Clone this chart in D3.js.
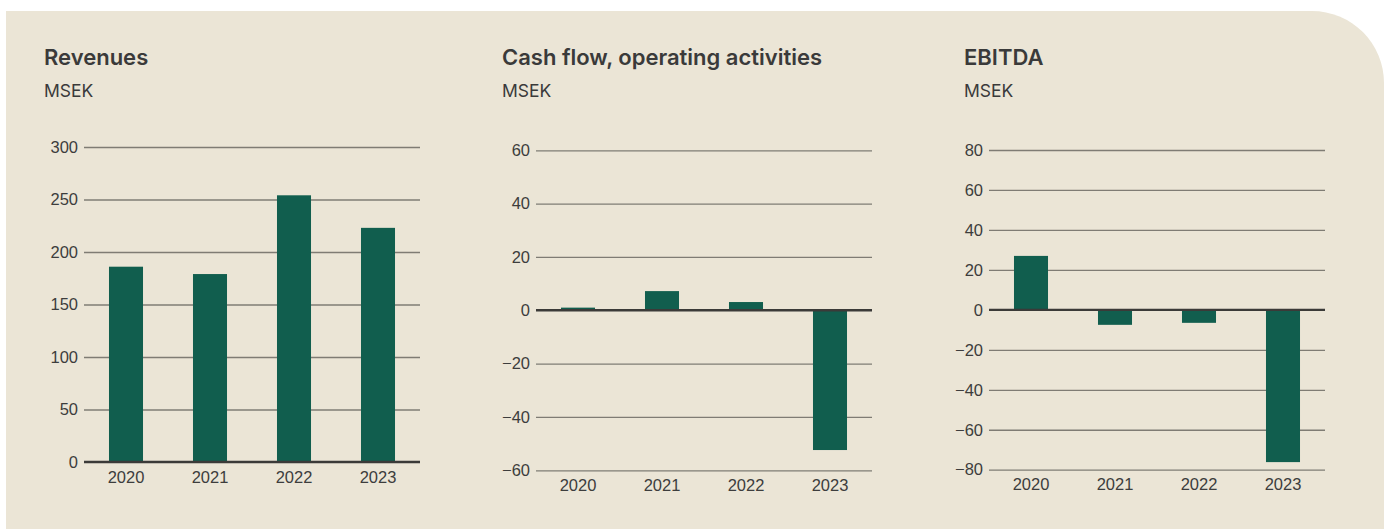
<!DOCTYPE html>
<html>
<head>
<meta charset="utf-8">
<script src="https://cdn.jsdelivr.net/npm/d3@7"></script>
<style>
  body { margin: 0; background: #fff; }
  svg { display: block; font-family: Inter, "Noto Sans", sans-serif; }
  .title { font-size: 22px; font-weight: 600; fill: #3a3a3a; }
  .unit { font-size: 17.5px; fill: #3a3a3a; }
  .tick text { font-size: 16.5px; fill: #3d3d3d; }
  .grid line { stroke: #7f7c74; stroke-width: 1.3; }
  .zero { stroke: #3b3a38; stroke-width: 2.4; }
  .bar { fill: #115e4e; }
</style>
</head>
<body>
<div id="graph"></div>
<script>
const width = 1384;
const height = 530;

const years = ['2020', '2021', '2022', '2023'];

const revenues = [186, 179, 254, 223];
const cashFlow = [1, 7.2, 3.1, -52.4];
const ebitda = [27, -7.5, -6.5, -76.2];

const revenueTicks = [0, 50, 100, 150, 200, 250, 300];
const cashFlowTicks = [-60, -40, -20, 0, 20, 40, 60];
const ebitdaTicks = [-80, -60, -40, -20, 0, 20, 40, 60, 80];

const titles = ['Revenues', 'Cash flow, operating activities', 'EBITDA'];
const unit = 'MSEK';

const panels = [
  {title: titles[0], values: revenues, ticks: revenueTicks, titleX: 44, x0: 84, top: 147, bottom: 462},
  {title: titles[1], values: cashFlow, ticks: cashFlowTicks, titleX: 502, x0: 536, top: 150.3, bottom: 470.3},
  {title: titles[2], values: ebitda, ticks: ebitdaTicks, titleX: 964, x0: 989, top: 150, bottom: 469.7}
];
const plotWidth = 336;

const svg = d3.select('#graph').append('svg').attr('width', width).attr('height', height);

// background card with rounded top-right corner
const r = 72, bx = 6, by = 11, bw = width - bx, bh = 529 - by;
svg.append('path')
  .attr('d', `M${bx},${by} H${bx + bw - r} A${r},${r} 0 0 1 ${bx + bw},${by + r} V${by + bh} H${bx} Z`)
  .attr('fill', '#ebe5d6');

panels.forEach(p => makePanel(svg.append('g'), p));

function makePanel(g, p) {
  const x = d3.scaleBand()
    .domain(years)
    .range([p.x0, p.x0 + plotWidth])
    .paddingInner(0.595)
    .paddingOuter(0.2975);

  const y = d3.scaleLinear()
    .domain(d3.extent(p.ticks))
    .range([p.bottom, p.top]);

  g.append('text').attr('class', 'title')
    .attr('x', p.titleX).attr('y', 65)
    .text(p.title);

  g.append('text').attr('class', 'unit')
    .attr('x', p.titleX).attr('y', 97)
    .text(unit);

  const yAxis = g.append('g')
    .attr('class', 'grid')
    .attr('transform', translate(p.x0, 0))
    .call(d3.axisLeft(y).tickValues(p.ticks).tickSize(-plotWidth).tickPadding(6).tickFormat(d3.format('d')));
  yAxis.select('.domain').remove();
  yAxis.selectAll('.tick line').filter(d => d === 0).remove();

  g.selectAll('rect.bar')
    .data(p.values)
    .enter().append('rect')
    .attr('class', 'bar')
    .attr('x', (d, i) => x(years[i]))
    .attr('width', x.bandwidth())
    .attr('y', d => y(Math.max(0, d)))
    .attr('height', d => Math.abs(y(d) - y(0)));

  g.append('line')
    .attr('class', 'zero')
    .attr('x1', p.x0).attr('x2', p.x0 + plotWidth)
    .attr('y1', y(0)).attr('y2', y(0));

  const xAxis = g.append('g')
    .attr('transform', translate(0, p.bottom))
    .call(d3.axisBottom(x).tickSize(0).tickPadding(9));
  xAxis.select('.domain').remove();
}

function translate(x, y) {
  return 'translate(' + x + ',' + y + ')';
}
</script>
</body>
</html>
